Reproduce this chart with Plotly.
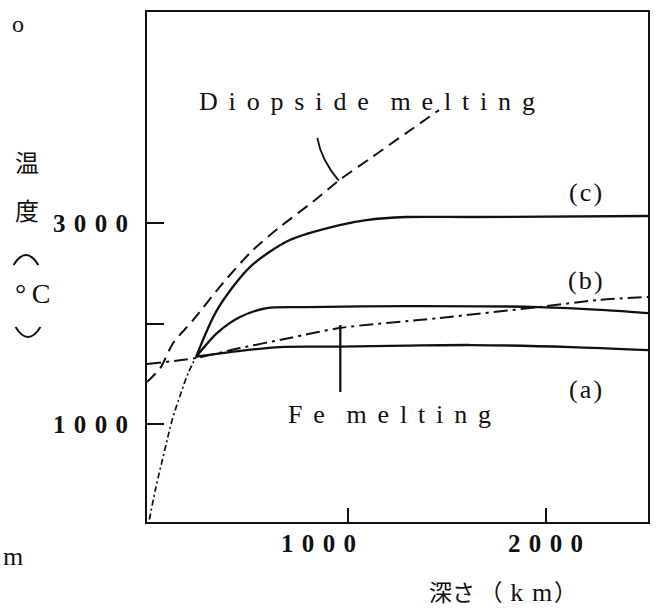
import numpy as np
import plotly.graph_objects as go

# Depth (km) and temperature (deg C) profiles
surface_depth = [0, 30, 80, 115, 156, 196, 236]
surface_temp = [50, 343, 761, 1040, 1289, 1507, 1670]

a_depth = [236, 407, 658, 959, 1300, 1626, 2128, 2515]
a_temp = [1670, 1716, 1766, 1770, 1780, 1786, 1766, 1736]

b_depth = [236, 341, 457, 592, 793, 1295, 1963, 2299, 2515]
b_temp = [1670, 1905, 2065, 2154, 2164, 2174, 2164, 2134, 2104]

c_depth = [236, 341, 507, 708, 959, 1094, 1295, 1626, 2515]
c_temp = [1670, 2134, 2562, 2831, 2980, 3030, 3060, 3060, 3070]

fe_depth = [-12, 236, 457, 708, 959, 1461, 1963, 2264, 2515]
fe_temp = [1597, 1657, 1756, 1856, 1955, 2055, 2164, 2234, 2264]

di_depth = [-12, 55, 120, 221, 371, 522, 658, 823, 959, 1124, 1295, 1461]
di_temp = [1418, 1557, 1806, 2035, 2403, 2731, 2960, 3209, 3428, 3657, 3895, 4124]

x_ticks = [1000, 2000]
y_ticks = [1000, 2000, 3000]
y_tick_text = ["1000", "", "3000"]

INK = "#111111"
SERIF = "Liberation Serif, Times New Roman, serif"
CJK = "Noto Sans CJK JP, sans-serif"
GAP = "\u00a0\u200a\u200a"
DIGIT_GAP = "\u00a0\u200a"


def spaced(text, gap=GAP):
    words = text.split(" ")
    return (gap * 2).join(gap.join(w) for w in words)


fig = go.Figure()

# shared near-surface gradient
fig.add_trace(go.Scatter(x=surface_depth, y=surface_temp, mode="lines",
                         line=dict(color=INK, width=1.7, dash="6px,3px,2px,3px"),
                         line_shape="spline", hoverinfo="skip"))
for dd, tt in [(a_depth, a_temp), (b_depth, b_temp), (c_depth, c_temp)]:
    fig.add_trace(go.Scatter(x=dd, y=tt, mode="lines",
                             line=dict(color=INK, width=2.3, smoothing=0.8),
                             line_shape="spline", hoverinfo="skip"))

fig.add_trace(go.Scatter(x=fe_depth, y=fe_temp, mode="lines",
                         line=dict(color=INK, width=2, dash="14px,5px,3px,5px", smoothing=0.8),
                         line_shape="spline", hoverinfo="skip"))
fig.add_trace(go.Scatter(x=di_depth, y=di_temp, mode="lines",
                         line=dict(color=INK, width=2, dash="12px,7px", smoothing=0.8),
                         line_shape="spline", hoverinfo="skip"))

# leader lines from the labels to their curves
di_end_x = 955
di_end_y = float(np.interp(di_end_x, di_depth, di_temp))
fig.add_shape(type="path", xref="x", yref="y",
              path=f"M 847,3846 Q 867,3627 {di_end_x},{di_end_y}",
              line=dict(color=INK, width=1.8))
fe_end_x = 963
fe_end_y = float(np.interp(fe_end_x, fe_depth, fe_temp))
fig.add_shape(type="line", xref="x", yref="y", x0=fe_end_x, x1=fe_end_x,
              y0=fe_end_y + 30, y1=1319, line=dict(color=INK, width=2.3))

# vertical-writing brackets around the unit of the temperature title
fig.add_shape(type="path", xref="paper", yref="paper",
              path="M -0.2664,0.5039 Q -0.2416,0.5431 -0.2167,0.5039",
              line=dict(color=INK, width=2))
fig.add_shape(type="path", xref="paper", yref="paper",
              path="M -0.2624,0.3824 Q -0.2376,0.3431 -0.2127,0.3824",
              line=dict(color=INK, width=2))

ann = []


def add_text(text, x, y, size, family=SERIF, xref="x", yref="y", xanchor="center",
             weight="normal", xshift=0):
    ann.append(dict(text=text, x=x, y=y, xref=xref, yref=yref, showarrow=False,
                    xanchor=xanchor, yanchor="middle", xshift=xshift,
                    font=dict(family=family, size=size, color=INK, weight=weight)))


add_text(spaced("Diopside melting"), 1098, 4214, 26)
add_text(spaced("Fe melting"), 1209, 1090, 26)
add_text(spaced("(c)", "\u200a"), 2200, 3300, 26)
add_text(spaced("(b)", "\u200a"), 2200, 2433, 26)
add_text(spaced("(a)", "\u200a"), 2200, 1348, 26)

# x tick labels
add_text(spaced("1000", DIGIT_GAP), 1000, -0.043, 25, xref="x", yref="paper",
         xanchor="right", xshift=10, weight="bold")
add_text(spaced("2000", DIGIT_GAP), 2000, -0.043, 25, xref="x", yref="paper", weight="bold")

# axis titles
add_text("深さ\u2009（\u2004<span style='font-family:Liberation Serif;font-size:26px'>k\u2004m</span>\u200a）",
         0.71, -0.139, 23, family=SERIF + ", " + CJK, xref="paper", yref="paper")
for ch, py in [("温", 0.706), ("度", 0.612)]:
    add_text(ch, -0.2386, py, 24, family=CJK, xref="paper", yref="paper")
add_text("°\u2009C", -0.228, 0.449, 28, xref="paper", yref="paper")

# fragments at the page edge
add_text("o", -0.2565, 0.976, 24, xref="paper", yref="paper")
add_text("m", -0.2922, -0.0667, 26, xref="paper", yref="paper", xanchor="left")

fig.update_layout(
    width=658, height=610,
    margin=dict(l=147, r=8, t=12, b=88),
    paper_bgcolor="white", plot_bgcolor="white",
    showlegend=False,
    annotations=ann,
    xaxis=dict(range=[-12, 2515], showgrid=False, zeroline=False,
               showline=True, mirror=True, linecolor=INK, linewidth=2,
               ticks="inside", tickvals=x_ticks, ticklen=14, tickwidth=2, tickcolor=INK,
               showticklabels=False),
    yaxis=dict(range=[25, 5100], showgrid=False, zeroline=False,
               showline=True, mirror=True, linecolor=INK, linewidth=2,
               ticks="inside", tickvals=y_ticks,
               ticktext=[spaced(t, DIGIT_GAP) for t in y_tick_text],
               ticklen=17, tickwidth=2, tickcolor=INK, ticklabelstandoff=12,
               tickfont=dict(family=SERIF, size=25, color=INK, weight="bold")),
)

fig.write_html("out.html")
